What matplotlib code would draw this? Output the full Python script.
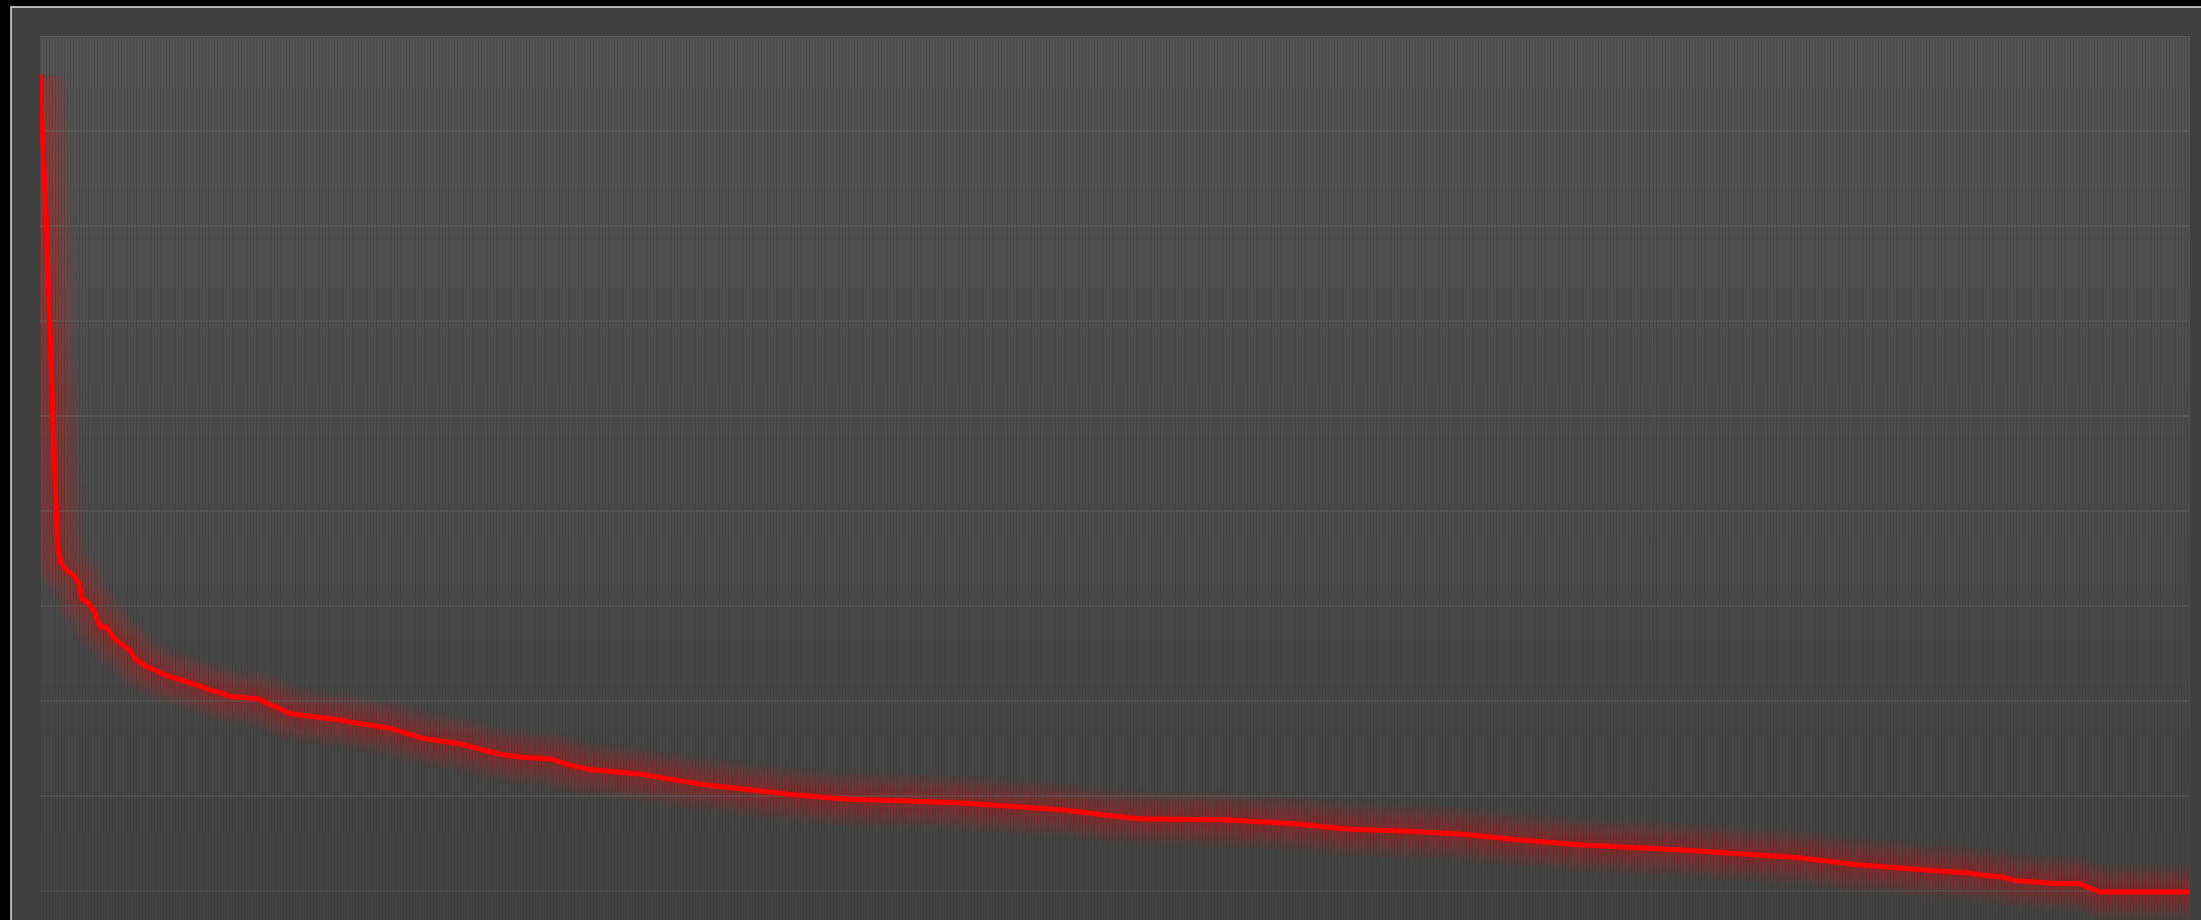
import numpy as np
import matplotlib
matplotlib.use("Agg")
import matplotlib.pyplot as plt
from matplotlib.patches import Rectangle
from matplotlib.colors import LinearSegmentedColormap

# ---- data (rank index, value) ----
n_points = 717
rank_idx = [0, 2, 5, 6, 7, 9, 11, 13, 14, 16, 18, 20, 22, 25, 28, 30, 32, 35, 38,
            42, 46, 50, 53, 57, 60, 63, 67, 73, 76, 80, 83, 90, 100, 103, 111, 117,
            123, 127, 133, 140, 147, 153, 160, 170, 173, 177, 183, 200, 221, 249,
            267, 305, 324, 342, 352, 366, 394, 417, 436, 455, 473, 492, 511, 529,
            548, 567, 586, 604, 620, 633, 642, 649, 653, 658, 671, 679, 682, 686, 716]
values = [957, 813, 534, 460, 445, 437, 433, 424, 407, 404, 395, 378, 378, 365, 358,
          353, 344, 337, 333, 327, 323, 319, 316, 311, 309, 305, 304, 302, 297, 292,
          287, 284, 280, 278, 274, 271, 265, 261, 258, 255, 249, 244, 241, 239, 236,
          232, 228, 223, 212, 202, 197, 193, 189, 185, 181, 176, 175, 171, 165, 163,
          160, 154, 149, 146, 143, 139, 135, 128, 124, 121, 119, 116, 115, 111, 108,
          108, 104, 99, 99]
y_max = 1000
y_step = 100

W, H, DPI = 2201, 921, 100
fig = plt.figure(figsize=(W / DPI, (H - 0.01) / DPI), dpi=DPI, facecolor="black")

# outer frame (light border + dark panel)
frame = Rectangle((11 / W, -0.1), 1.2, (H - 8) / H + 0.1,
                  transform=fig.transFigure, facecolor="#404040",
                  edgecolor="#cfcfcf", linewidth=1.2, zorder=-5)
fig.add_artist(frame)

left, top, right, bottom_px = 40, 37, 2190, 987
ax = fig.add_axes([left / W, (H - bottom_px) / H, (right - left) / W, (bottom_px - top) / H])
ax.set_zorder(1)
ax.patch.set_visible(False)

# gradient plot background
cmap = LinearSegmentedColormap.from_list("g", ["#414141", "#545454"])
grad = np.linspace(0, 1, 256).reshape(-1, 1)
ax.imshow(grad, cmap=cmap, aspect="auto", extent=[0, 1, 0, 1],
          transform=ax.transAxes, origin="lower", zorder=0)

ax.set_xlim(0, n_points - 1)
ax.set_ylim(0, y_max)

# dense vertical grid (one per rank) and horizontal grid
ax.set_xticks(np.arange(0, n_points))
ax.set_yticks(np.arange(0, y_max + 1, y_step))
ax.tick_params(length=0, labelbottom=False, labelleft=False)
ax.grid(True, axis="x", color="#363636", alpha=0.35, linewidth=0.6, zorder=1)
ax.grid(True, axis="y", color="#6a6a6a", alpha=0.35, linewidth=1.5, zorder=1)
ax.set_axisbelow(False)
for s in ax.spines.values():
    s.set_visible(False)

# glow
for w in np.linspace(56, 8, 24):
    ax.plot(rank_idx, values, color="#ff2020", linewidth=w * 72 / DPI, alpha=0.02,
            solid_capstyle="butt", solid_joinstyle="round", zorder=2)
# main line
ax.plot(rank_idx, values, color="#ff0000", linewidth=5 * 72 / DPI,
        solid_joinstyle="miter", zorder=3)

fig.savefig("out.png", dpi=DPI, facecolor="black")
